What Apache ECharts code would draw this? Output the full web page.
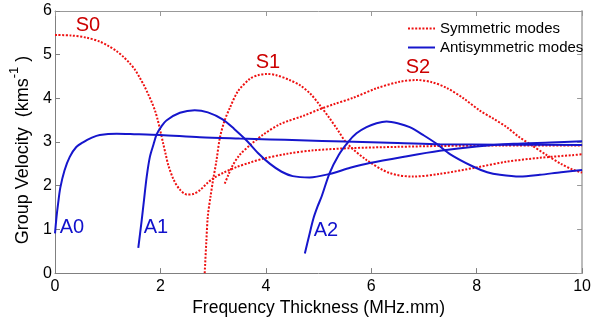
<!DOCTYPE html>
<html>
<head>
<meta charset="utf-8">
<script src="https://cdn.jsdelivr.net/npm/echarts@6/dist/echarts.min.js"></script>
<style>
html,body{margin:0;padding:0;background:#fff;}
#c{width:594px;height:322px;}
</style>
</head>
<body>
<div id="c"></div>
<script>
// ---- data (x: frequency-thickness MHz.mm, y: group velocity km/s) ----
const xTicks = [0, 2, 4, 6, 8, 10];
const yTicks = [0, 1, 2, 3, 4, 5, 6];

const S0 = [[0,5.45],[0.3,5.44],[0.6,5.39],[0.85,5.3],[1.0,5.21],[1.17,5.08],[1.3,4.95],[1.42,4.8],[1.52,4.65],[1.61,4.47],[1.7,4.27],[1.77,4.09],[1.84,3.9],[1.9,3.71],[1.95,3.5],[1.99,3.3],[2.05,2.98],[2.1,2.72],[2.15,2.47],[2.25,2.14],[2.37,1.91],[2.5,1.8],[2.62,1.81],[2.75,1.9],[2.88,2.05],[3.0,2.17],[3.2,2.3],[3.45,2.43],[3.7,2.53],[3.95,2.62],[4.4,2.73],[4.9,2.81],[5.6,2.86],[6.5,2.89],[7.3,2.91],[8.5,2.92],[10,2.92]];
const S1 = [[2.84,0],[2.87,0.7],[2.9,1.31],[2.95,1.75],[3.0,2.14],[3.06,2.55],[3.13,3.11],[3.22,3.5],[3.32,3.79],[3.47,4.16],[3.7,4.45],[3.85,4.53],[4.02,4.56],[4.2,4.53],[4.45,4.42],[4.65,4.3],[4.85,4.1],[5.02,3.85],[5.2,3.56],[5.34,3.32],[5.54,2.97],[5.91,2.59],[6.35,2.29],[6.79,2.21],[7.3,2.27],[8.0,2.42],[8.57,2.55],[9.2,2.64],[9.82,2.7],[10,2.72]];
const S2 = [[3.22,2.05],[3.29,2.25],[3.36,2.44],[3.5,2.7],[3.7,2.93],[3.95,3.17],[4.27,3.41],[4.71,3.6],[5.02,3.75],[5.3,3.87],[5.65,4.01],[6.1,4.23],[6.54,4.38],[6.86,4.42],[7.15,4.37],[7.43,4.24],[7.75,4.0],[8.06,3.72],[8.31,3.54],[8.56,3.35],[8.8,3.12],[9.0,2.96],[9.33,2.7],[9.6,2.5],[9.82,2.37],[10,2.3]];
const A0 = [[0,0.91],[0.03,1.3],[0.06,1.6],[0.1,1.95],[0.18,2.35],[0.28,2.66],[0.4,2.88],[0.54,3.0],[0.7,3.1],[0.85,3.16],[1.17,3.19],[1.5,3.18],[2.0,3.16],[2.75,3.11],[3.5,3.08],[4.08,3.06],[4.64,3.04],[5.5,3.01],[6.5,2.98],[7.3,2.95],[8.5,2.94],[10,2.93]];
const A1 = [[1.58,0.58],[1.64,1.16],[1.69,1.69],[1.74,2.21],[1.8,2.66],[1.87,2.95],[1.93,3.18],[2.02,3.36],[2.12,3.5],[2.37,3.67],[2.65,3.73],[2.9,3.68],[3.18,3.52],[3.4,3.3],[3.63,3.04],[3.85,2.75],[4.08,2.5],[4.3,2.32],[4.51,2.22],[4.83,2.19],[5.21,2.27],[5.6,2.41],[5.97,2.52],[6.6,2.66],[7.3,2.8],[8.0,2.9],[8.7,2.96],[9.4,2.99],[10,3.02]];
const A2 = [[4.74,0.45],[4.82,0.85],[4.9,1.24],[4.98,1.52],[5.06,1.76],[5.21,2.29],[5.38,2.7],[5.56,3.0],[5.72,3.2],[5.91,3.34],[6.1,3.43],[6.29,3.47],[6.5,3.43],[6.73,3.34],[7.0,3.15],[7.24,2.96],[7.5,2.72],[7.93,2.44],[8.2,2.31],[8.44,2.25],[8.82,2.21],[9.2,2.25],[9.6,2.31],[10,2.36]];

const symName = 'Symmetric modes';
const antiName = 'Antisymmetric modes';
const curveLabels = ['S0', 'S1', 'S2', 'A0', 'A1', 'A2'];

// ---- styles ----
const FONT = 'Liberation Sans, Arial, sans-serif';
const RED = '#ee1111';
const BLUE = '#1616cc';
const AXIS = '#808080';

function symSeries(data) {
  return { name: symName, type: 'line', data: data, smooth: 0.3, symbol: 'none', showSymbol: false,
    lineStyle: { color: RED, width: 2, type: [2, 1.6] }, itemStyle: { color: RED }, z: 2 };
}
function antiSeries(data) {
  return { name: antiName, type: 'line', data: data, smooth: 0.3, symbol: 'none', showSymbol: false,
    lineStyle: { color: BLUE, width: 2, type: 'solid' }, itemStyle: { color: BLUE }, z: 3 };
}

const chart = echarts.init(document.getElementById('c'));
const labelPos = [[88,25],[268,62],[418,67],[72,227],[156,227],[326,230]];

const option = {
  animation: false,
  backgroundColor: '#fff',
  grid: { left: 55, right: 11, top: 11, bottom: 44 },
  legend: {
    orient: 'vertical', left: 402, top: 16,
    itemWidth: 27, itemHeight: 14, itemGap: 4,
    itemStyle: { opacity: 0 },
    data: [symName, antiName],
    textStyle: { fontFamily: FONT, fontSize: 15, color: '#000', lineHeight: 14 }
  },
  xAxis: [
    { type: 'value', position: 'bottom', min: xTicks[0], max: xTicks[xTicks.length-1], interval: xTicks[1]-xTicks[0],
      axisLine: { show: true, onZero: false, lineStyle: { color: AXIS, width: 1 } },
      axisTick: { show: true, inside: true, length: 5, lineStyle: { color: AXIS } },
      axisLabel: { color: '#000', fontFamily: FONT, fontSize: 16, margin: 5 },
      splitLine: { show: false },
      name: 'Frequency Thickness (MHz.mm)', nameLocation: 'middle', nameGap: 13,
      nameTextStyle: { color: '#000', fontFamily: FONT, fontSize: 17.5 } },
    { type: 'value', position: 'top', min: xTicks[0], max: xTicks[xTicks.length-1], interval: xTicks[1]-xTicks[0],
      axisLine: { show: true, onZero: false, lineStyle: { color: '#999', width: 1 } },
      axisTick: { show: true, inside: true, length: 5, lineStyle: { color: '#999' } },
      axisLabel: { show: false }, splitLine: { show: false } }
  ],
  yAxis: [
    { type: 'value', position: 'left', min: yTicks[0], max: yTicks[yTicks.length-1], interval: yTicks[1]-yTicks[0],
      axisLine: { show: true, onZero: false, lineStyle: { color: AXIS, width: 1 } },
      axisTick: { show: true, inside: true, length: 5, lineStyle: { color: AXIS } },
      axisLabel: { color: '#000', fontFamily: FONT, fontSize: 16, margin: 3 },
      splitLine: { show: false },
      name: '{b|Group Velocity  (kms}{s|-1}{b| )}', nameLocation: 'middle', nameGap: -4, nameRotate: 90,
      nameTextStyle: { color: '#000', fontFamily: FONT, fontSize: 18, padding: [0, 16, 0, 0],
        rich: { b: { fontFamily: FONT, fontSize: 18, color: '#000', lineHeight: 24, verticalAlign: 'bottom' },
                s: { fontFamily: FONT, fontSize: 13, color: '#000', lineHeight: 24, verticalAlign: 'top' } } } },
    { type: 'value', position: 'right', min: yTicks[0], max: yTicks[yTicks.length-1], interval: yTicks[1]-yTicks[0],
      axisLine: { show: true, onZero: false, lineStyle: { color: '#bbb', width: 2 } },
      axisTick: { show: true, inside: true, length: 5, lineStyle: { color: '#999' } },
      axisLabel: { show: false }, splitLine: { show: false } }
  ],
  graphic: curveLabels.map((t, i) => ({
    type: 'text', x: labelPos[i][0], y: labelPos[i][1], z: 100,
    style: { text: t, fill: t[0] === 'S' ? '#cc0000' : '#1111cc', font: '20px ' + FONT,
             textAlign: 'center', textVerticalAlign: 'middle' }
  })),
  series: [symSeries(S0), symSeries(S1), symSeries(S2), antiSeries(A0), antiSeries(A1), antiSeries(A2)]
};
chart.setOption(option);
</script>
</body>
</html>
